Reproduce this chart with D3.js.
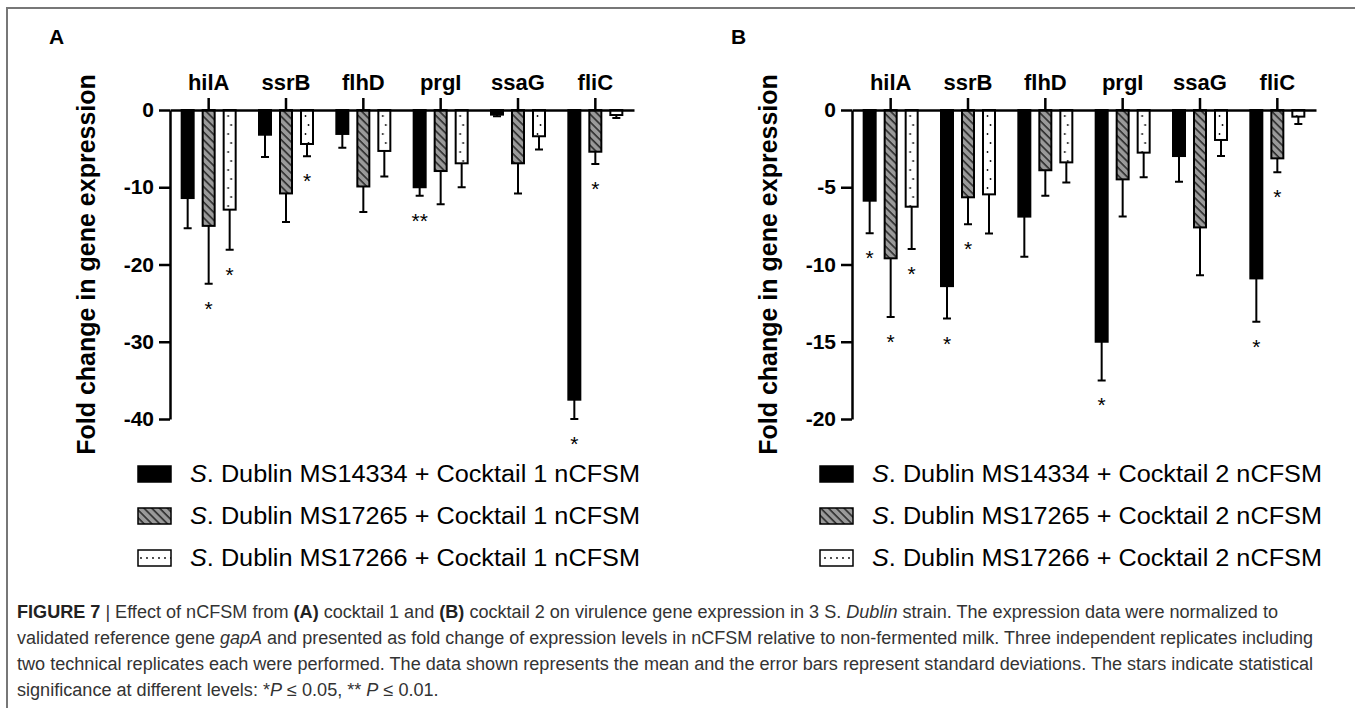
<!DOCTYPE html>
<html>
<head>
<meta charset="utf-8">
<script src="https://cdn.jsdelivr.net/npm/d3@7"></script>
<style>
  body { margin: 0; background: #fff; }
  svg { display: block; }
</style>
</head>
<body>
<script>
const genes = ['hilA', 'ssrB', 'flhD', 'prgI', 'ssaG', 'fliC'];
const strains = ['MS14334', 'MS17265', 'MS17266'];

// Panel A - cocktail 1 nCFSM
const meanA14334 = [-11.4, -3.2, -3.1, -10.0, -0.6, -37.5];
const sdA14334 = [3.9, 2.9, 1.8, 1.1, 0.2, 2.5];
const starsA14334 = ['', '', '', '**', '', '*'];
const meanA17265 = [-15.0, -10.8, -9.9, -7.9, -6.9, -5.4];
const sdA17265 = [7.5, 3.7, 3.3, 4.3, 3.9, 1.6];
const starsA17265 = ['*', '', '', '', '', '*'];
const meanA17266 = [-12.9, -4.4, -5.3, -6.9, -3.4, -0.65];
const sdA17266 = [5.2, 1.6, 3.3, 3.1, 1.7, 0.4];
const starsA17266 = ['*', '*', '', '', '', ''];
const ticksA = [0, -10, -20, -30, -40];

// Panel B - cocktail 2 nCFSM
const meanB14334 = [-5.87, -11.4, -6.9, -15.0, -2.98, -10.9];
const sdB14334 = [2.1, 2.1, 2.6, 2.5, 1.66, 2.8];
const starsB14334 = ['*', '*', '', '*', '', '*'];
const meanB17265 = [-9.6, -5.65, -3.9, -4.49, -7.6, -3.13];
const sdB17265 = [3.8, 1.75, 1.65, 2.4, 3.1, 0.9];
const starsB17265 = ['*', '*', '', '', '', '*'];
const meanB17266 = [-6.26, -5.46, -3.39, -2.76, -1.94, -0.43];
const sdB17266 = [2.74, 2.54, 1.3, 1.6, 1.04, 0.47];
const starsB17266 = ['*', '', '', '', '', ''];
const ticksB = [0, -5, -10, -15, -20];

const captionLines = [
  [['b', 'FIGURE 7'], ['n', ' | Effect of nCFSM from '], ['b', '(A)'], ['n', ' cocktail 1 and '], ['b', '(B)'],
   ['n', ' cocktail 2 on virulence gene expression in 3 S. '], ['i', 'Dublin'],
   ['n', ' strain. The expression data were normalized to']],
  [['n', 'validated reference gene '], ['i', 'gapA'],
   ['n', ' and presented as fold change of expression levels in nCFSM relative to non-fermented milk. Three independent replicates including']],
  [['n', 'two technical replicates each were performed. The data shown represents the mean and the error bars represent standard deviations. The stars indicate statistical']],
  [['n', 'significance at different levels: *'], ['i', 'P'], ['n', ' ≤ 0.05, ** '], ['i', 'P'], ['n', ' ≤ 0.01.']],
];
// widths of the first three caption lines in the figure; the last one follows the same squeeze
const captionWidths = [1261, 1296, 1296];

const Layout = {
  width: 1355,
  height: 708,
  y0: 110,
  y1: 419,
  axisWidth: 464,
  font: '"Liberation Sans", Arial, Helvetica, sans-serif',
};

const panels = [
  {
    label: 'A', cocktail: 1, x0: 170, ticks: ticksA,
    series: [
      { mean: meanA14334, sd: sdA14334, stars: starsA14334 },
      { mean: meanA17265, sd: sdA17265, stars: starsA17265 },
      { mean: meanA17266, sd: sdA17266, stars: starsA17266 },
    ],
  },
  {
    label: 'B', cocktail: 2, x0: 852, ticks: ticksB,
    series: [
      { mean: meanB14334, sd: sdB14334, stars: starsB14334 },
      { mean: meanB17265, sd: sdB17265, stars: starsB17265 },
      { mean: meanB17266, sd: sdB17266, stars: starsB17266 },
    ],
  },
];

const svg = d3.select('body').append('svg')
  .attr('width', Layout.width)
  .attr('height', Layout.height)
  .style('font-family', Layout.font);

svg.append('rect').attr('width', Layout.width).attr('height', Layout.height).attr('fill', '#fff');

// frame (top and left rules)
svg.append('path')
  .attr('d', `M7,${Layout.height}V8H${Layout.width}`)
  .attr('fill', 'none')
  .attr('stroke', '#777')
  .attr('stroke-width', 2);

const defs = svg.append('defs');

const hatch = defs.append('pattern')
  .attr('id', 'hatch')
  .attr('patternUnits', 'userSpaceOnUse')
  .attr('width', 5.5)
  .attr('height', 5.5)
  .attr('patternTransform', 'rotate(-45)');
hatch.append('rect').attr('width', 5.5).attr('height', 5.5).attr('fill', '#9a9a9a');
hatch.append('line').attr('x1', 1).attr('y1', 0).attr('x2', 1).attr('y2', 5.5)
  .attr('stroke', '#111').attr('stroke-width', 1.3);

function fillFor(i, panel) {
  if (i === 0) return '#000';
  if (i === 1) return 'url(#hatch)';
  return `url(#dots-${panel.label})`;
}

panels.forEach(panel => {
  const x = d3.scaleBand()
    .domain(genes)
    .range([panel.x0, panel.x0 + Layout.axisWidth]);
  const offset = d3.scalePoint().domain(strains).range([-21, 21]);
  const y = d3.scaleLinear()
    .domain([0, d3.min(panel.ticks)])
    .range([Layout.y0, Layout.y1]);

  // dotted fill, aligned to the third bar of each group
  const dots = defs.append('pattern')
    .attr('id', `dots-${panel.label}`)
    .attr('patternUnits', 'userSpaceOnUse')
    .attr('x', x(genes[0]) + x.bandwidth() / 2 + offset(strains[2]) - 6)
    .attr('y', Layout.y0)
    .attr('width', x.step())
    .attr('height', 18);
  dots.append('rect').attr('width', x.step()).attr('height', 18).attr('fill', '#fff');
  dots.append('circle').attr('cx', 4.5).attr('cy', 6).attr('r', 0.9).attr('fill', '#000');
  dots.append('circle').attr('cx', 7.5).attr('cy', 15).attr('r', 0.9).attr('fill', '#000');

  const g = svg.append('g');

  // panel letter
  g.append('text')
    .attr('x', panel.x0 - 121)
    .attr('y', 44)
    .attr('font-size', 21)
    .attr('font-weight', 'bold')
    .text(panel.label);

  // y title
  g.append('text')
    .attr('transform', `translate(${panel.x0 - 75},${(Layout.y0 + Layout.y1) / 2}) rotate(-90)`)
    .attr('text-anchor', 'middle')
    .attr('font-size', 25)
    .attr('font-weight', 'bold')
    .text('Fold change in gene expression');

  // bars, error bars and stars
  panel.series.forEach((s, si) => {
    const cx = gi => x(genes[gi]) + x.bandwidth() / 2 + offset(strains[si]);
    const sg = g.append('g');
    sg.selectAll('rect')
      .data(genes)
      .enter()
      .append('rect')
      .attr('x', (d, gi) => cx(gi) - 6)
      .attr('y', y(0))
      .attr('width', 12)
      .attr('height', (d, gi) => y(s.mean[gi]) - y(0))
      .attr('fill', fillFor(si, panel))
      .attr('stroke', '#000')
      .attr('stroke-width', 2);

    sg.selectAll('.err')
      .data(genes)
      .enter()
      .append('path')
      .attr('d', (d, gi) => {
        const a = y(s.mean[gi]);
        const b = y(s.mean[gi] - s.sd[gi]);
        return `M${cx(gi)},${a}V${b}M${cx(gi) - 4},${b}H${cx(gi) + 4}`;
      })
      .attr('fill', 'none')
      .attr('stroke', '#000')
      .attr('stroke-width', 2);

    sg.selectAll('.star')
      .data(genes)
      .enter()
      .append('text')
      .attr('x', (d, gi) => cx(gi))
      .attr('y', (d, gi) => y(s.mean[gi] - s.sd[gi]) + 32)
      .attr('text-anchor', 'middle')
      .attr('font-size', 21)
      .text((d, gi) => s.stars[gi]);
  });

  // y axis
  const yAxis = g.append('g')
    .attr('transform', `translate(${panel.x0},0)`)
    .call(d3.axisLeft(y).tickValues(panel.ticks).tickFormat(d3.format('d')).tickSize(11).tickSizeOuter(0).tickPadding(5));
  yAxis.select('.domain').attr('stroke-width', 2.5);
  yAxis.selectAll('.tick line').attr('stroke-width', 2.5);
  yAxis.selectAll('.tick text')
    .attr('font-size', 21)
    .attr('font-weight', 'bold')
    .attr('font-family', Layout.font)
    .attr('fill', '#000')
    .text(d => (d === 0 ? '0' : '-' + Math.abs(d)));

  // top axis with gene names
  const xAxis = g.append('g')
    .attr('transform', `translate(0,${Layout.y0})`)
    .call(d3.axisTop(x).tickSize(12).tickSizeOuter(0).tickPadding(8));
  xAxis.select('.domain').attr('stroke-width', 2.5);
  xAxis.selectAll('.tick line').attr('stroke-width', 2.5);
  xAxis.selectAll('.tick text')
    .attr('font-size', 22)
    .attr('font-weight', 'bold')
    .attr('font-family', Layout.font)
    .attr('fill', '#000');

  // legend
  const lg = g.append('g');
  strains.forEach((strain, si) => {
    const ly = 466 + 42 * si;
    lg.append('rect')
      .attr('x', panel.x0 - 32)
      .attr('y', ly)
      .attr('width', 33)
      .attr('height', 16)
      .attr('fill', si === 2 ? 'url(#dots-legend)' : fillFor(si, panel))
      .attr('stroke', '#000')
      .attr('stroke-width', 1.5);
    const t = lg.append('text')
      .attr('x', panel.x0 + 20)
      .attr('y', ly + 16)
      .attr('font-size', 23)
      .attr('textLength', 450)
      .attr('lengthAdjust', 'spacingAndGlyphs');
    t.append('tspan').attr('font-style', 'italic').text('S');
    t.append('tspan').text(`. Dublin ${strain} + Cocktail ${panel.cocktail} nCFSM`);
  });
});

const legendDots = defs.append('pattern')
  .attr('id', 'dots-legend')
  .attr('patternUnits', 'userSpaceOnUse')
  .attr('x', 0)
  .attr('y', 550)
  .attr('width', 6)
  .attr('height', 100);
legendDots.append('rect').attr('width', 6).attr('height', 100).attr('fill', '#fff');
legendDots.append('circle').attr('cx', 3).attr('cy', 8).attr('r', 0.9).attr('fill', '#000');

// caption
const cap = svg.append('g').attr('fill', '#333');
const capTexts = captionLines.map((parts, li) => {
  const t = cap.append('text')
    .attr('x', 17)
    .attr('y', 618 + 26 * li)
    .attr('font-size', 18)
    .attr('font-weight', 300);
  parts.forEach(([style, str]) => {
    const ts = t.append('tspan').text(str);
    if (style === 'b') ts.attr('font-weight', 'bold').attr('fill', '#222');
    if (style === 'i') ts.attr('font-style', 'italic');
  });
  return t;
});
const squeeze = captionWidths[2] / capTexts[2].node().getComputedTextLength();
capTexts.forEach((t, li) => {
  const w = li < captionWidths.length ? captionWidths[li] : t.node().getComputedTextLength() * squeeze;
  t.attr('textLength', w).attr('lengthAdjust', 'spacingAndGlyphs');
});
</script>
</body>
</html>
